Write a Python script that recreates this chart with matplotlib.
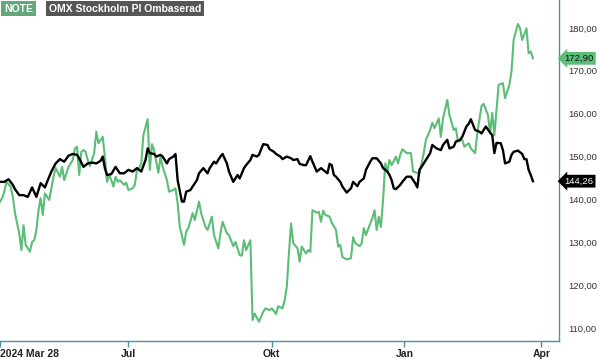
import matplotlib
matplotlib.use("Agg")
import matplotlib.pyplot as plt
from matplotlib.ticker import FuncFormatter

plt.rcParams['font.family'] = ['Liberation Sans', 'DejaVu Sans']

# trading session number (0 = 2024-03-28) and closing values
omx_days = [0, 2, 4, 6, 7, 9, 11, 13, 15, 17, 19, 21, 22, 24, 26, 28, 30, 32, 34, 36,
            37, 39, 41, 43, 45, 47, 48, 49, 50, 52, 54, 56, 58, 60, 62, 64, 65, 66, 68, 69,
            70, 72, 73, 75, 76, 78, 79, 81, 82, 83, 85, 86, 87, 89, 90, 92, 93, 95, 97, 98,
            100, 101, 103, 104, 106, 107, 109, 111, 112, 114, 115, 117, 118, 120, 121, 123, 125, 126, 128, 129,
            131, 132, 134, 136, 137, 139, 140, 142, 143, 145, 146, 148, 150, 151, 153, 154, 155, 156, 157, 159,
            160, 162, 164, 165, 167, 168, 170, 171, 173, 174, 176, 178, 179, 181, 182, 183, 184, 185, 187, 188,
            190, 192, 194, 195, 196, 198, 199, 201, 202, 204, 206, 207, 209, 210, 212, 213, 215, 216, 218, 219,
            220, 222, 224, 225, 227, 229, 230, 231, 232, 234, 235, 236, 238, 239, 240, 242, 244, 245, 246, 247,
            248, 249]
omx_vals = [144.1, 144.1, 144.7, 143.4, 142.4, 141.0, 141.0, 140.6, 142.8, 140.6, 143.8, 142.8, 144.1, 146.5, 148.4, 149.4, 148.8, 150.2, 150.6, 150.4,
            149.6, 147.6, 148.4, 148.6, 148.4, 149.0, 150.0, 147.3, 145.7, 145.9, 147.6, 146.1, 146.1, 146.9, 146.5, 147.3, 146.9, 146.5, 149.2, 151.9,
            150.8, 150.6, 150.0, 150.4, 150.0, 148.4, 149.4, 150.0, 150.6, 144.5, 139.5, 139.5, 141.8, 142.2, 143.0, 144.5, 146.1, 147.3, 146.1, 147.3,
            148.8, 148.4, 150.0, 150.6, 148.4, 146.5, 144.1, 145.7, 144.9, 147.3, 148.0, 149.2, 150.4, 150.0, 150.4, 152.9, 152.7, 151.7, 151.1, 150.6,
            150.0, 149.4, 150.0, 149.6, 149.2, 149.4, 148.3, 148.0, 148.0, 150.1, 148.8, 146.5, 147.3, 146.9, 146.1, 148.3, 148.0, 145.7, 145.3, 144.1,
            143.0, 141.6, 142.6, 144.1, 143.1, 144.1, 144.9, 146.9, 148.8, 149.6, 149.6, 148.4, 147.3, 146.5, 145.7, 144.5, 142.6, 142.4, 143.4, 144.1,
            145.3, 145.3, 143.8, 142.8, 146.9, 148.4, 149.2, 150.8, 152.7, 151.9, 151.5, 152.7, 153.9, 151.9, 152.3, 153.5, 153.9, 154.6, 157.1, 157.6,
            158.7, 156.2, 155.8, 155.4, 157.0, 155.6, 155.0, 150.8, 153.2, 153.1, 151.5, 148.4, 148.8, 150.4, 151.1, 151.4, 150.6, 149.4, 149.4, 146.9,
            145.7, 144.26]

note_days = [0, 1, 2, 3, 5, 6, 7, 9, 10, 11, 12, 14, 15, 16, 17, 18, 19, 20, 21, 23,
             24, 25, 26, 28, 29, 30, 32, 34, 35, 36, 37, 38, 39, 40, 41, 42, 44, 45, 46, 48,
             49, 50, 51, 52, 53, 54, 55, 56, 58, 59, 60, 62, 63, 64, 65, 66, 67, 69, 70, 71,
             72, 74, 75, 76, 77, 78, 79, 81, 82, 83, 84, 86, 87, 88, 90, 91, 93, 94, 96, 97,
             99, 100, 102, 103, 104, 106, 107, 109, 110, 112, 113, 114, 115, 117, 118, 119, 121, 123, 124, 126,
             127, 129, 130, 132, 133, 134, 135, 136, 137, 139, 140, 141, 143, 144, 145, 146, 148, 149, 150, 151,
             152, 154, 155, 157, 158, 159, 160, 162, 164, 165, 166, 168, 169, 170, 171, 173, 174, 175, 176, 177,
             178, 179, 180, 181, 182, 183, 185, 186, 187, 188, 190, 192, 193, 195, 196, 198, 199, 201, 202, 203,
             205, 206, 207, 209, 210, 212, 213, 214, 216, 217, 219, 220, 222, 223, 225, 226, 228, 229, 230, 231,
             232, 233, 235, 236, 238, 239, 240, 242, 243, 244, 246, 247, 248, 249]
note_vals = [139.5, 140.3, 141.8, 144.1, 143.0, 140.6, 136.8, 132.1, 128.2, 134.0, 129.4, 127.8, 130.1, 130.5, 132.9, 137.5, 140.3, 136.4, 141.4, 139.9,
             142.6, 145.3, 147.3, 145.3, 147.6, 144.5, 147.6, 149.2, 151.9, 152.3, 145.7, 151.1, 151.5, 151.1, 149.2, 147.8, 150.8, 155.8, 153.1, 154.6,
             150.0, 144.1, 145.7, 144.5, 143.0, 145.3, 144.1, 144.5, 143.4, 143.9, 142.2, 142.6, 143.4, 146.9, 147.3, 148.4, 155.0, 158.7, 146.9, 152.9,
             151.5, 146.2, 150.0, 147.6, 146.1, 144.5, 141.8, 142.2, 142.6, 139.1, 133.6, 129.4, 132.5, 133.3, 136.8, 135.2, 139.5, 136.8, 133.6, 132.9,
             136.0, 131.7, 128.6, 132.1, 134.8, 132.1, 131.7, 129.1, 130.1, 127.0, 126.9, 130.5, 128.2, 130.5, 111.9, 113.4, 111.5, 113.8, 114.6, 114.2,
             114.6, 113.3, 115.1, 114.6, 116.5, 119.6, 127.4, 134.4, 129.8, 128.6, 125.5, 129.0, 127.4, 128.2, 127.8, 137.5, 136.9, 137.1, 134.8, 137.4,
             136.4, 136.0, 134.6, 132.9, 129.0, 129.4, 126.6, 126.0, 126.3, 131.2, 129.8, 129.1, 129.8, 133.3, 131.7, 134.4, 135.6, 137.5, 132.9, 136.0,
             133.6, 139.9, 148.4, 146.5, 149.2, 148.0, 150.0, 148.4, 150.4, 151.7, 150.8, 150.8, 146.5, 146.2, 146.1, 150.8, 153.9, 156.2, 157.9, 156.6,
             158.9, 154.6, 158.9, 163.2, 159.7, 156.2, 156.6, 153.5, 153.9, 152.3, 153.1, 151.9, 150.8, 155.4, 161.8, 162.3, 159.7, 155.4, 160.2, 155.0,
             160.9, 166.7, 167.1, 163.6, 166.7, 169.8, 177.2, 180.9, 179.9, 177.2, 179.9, 174.1, 174.5, 172.9]

tick_days = [0, 60, 127, 189, 253]
tick_labels = ['2024 Mar 28', 'Jul', 'Okt', 'Jan', 'Apr']
y_ticks = [110, 120, 130, 140, 150, 160, 170, 180]

green = '#5cbd78'
axis_col = '#4f8fa6'

fig = plt.figure(figsize=(6, 3.59), dpi=100)
ax = fig.add_axes([0, 18 / 359, 559 / 600, 341 / 359])

ax.plot(note_days, note_vals, color=green, lw=1.5, solid_joinstyle='round')
ax.plot(omx_days, omx_vals, color='black', lw=1.7, solid_joinstyle='round')

ax.set_xlim(0, 261.2)
ax.set_ylim(107.0, 186.5)

for s in ['top', 'left']:
    ax.spines[s].set_visible(False)
for s in ['right', 'bottom']:
    ax.spines[s].set_color(axis_col)
    ax.spines[s].set_linewidth(1.0)

ax.yaxis.tick_right()
ax.set_yticks(y_ticks)
ax.yaxis.set_major_formatter(FuncFormatter(lambda v, p: f'{v:.2f}'.replace('.', ',')))
ax.tick_params(axis='y', length=0, pad=7, labelsize=6.8, labelcolor='#333333')

ax.set_xticks(tick_days)
ax.set_xticklabels(tick_labels, fontweight='bold')
ax.tick_params(axis='x', length=4, width=1, color=axis_col, pad=2,
               labelsize=7.5, labelcolor='#222222')
ax.get_xticklabels()[0].set_horizontalalignment('left')

# last-value tags on the right axis
tr = ax.get_yaxis_transform()
ax.text(1.01, note_vals[-1], f'{note_vals[-1]:.2f}'.replace('.', ','), transform=tr,
        fontsize=6.8, color='#111111', va='center', ha='left', clip_on=False,
        bbox=dict(boxstyle='larrow,pad=0.2', fc=green, ec='none'))
ax.text(1.01, omx_vals[-1], f'{omx_vals[-1]:.2f}'.replace('.', ','), transform=tr,
        fontsize=6.8, color='white', va='center', ha='left', clip_on=False,
        bbox=dict(boxstyle='larrow,pad=0.2', fc='black', ec='none'))

# legend boxes
fig.text(4 / 600, 1 - 8.5 / 359, 'NOTE', fontsize=7.5, fontweight='bold', color='white',
         va='center', ha='left',
         bbox=dict(boxstyle='square,pad=0.25', fc='#62a878', ec='none'))
fig.text(49 / 600, 1 - 8.5 / 359, 'OMX Stockholm PI Ombaserad', fontsize=7.5, fontweight='bold',
         color='white', va='center', ha='left',
         bbox=dict(boxstyle='square,pad=0.25', fc='#565656', ec='none'))

fig.savefig('out.png', dpi=100)
